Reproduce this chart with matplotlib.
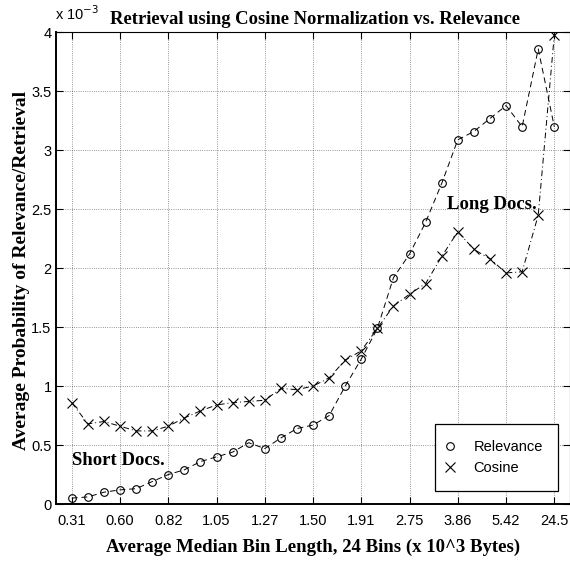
import matplotlib
matplotlib.use('Agg')
import matplotlib.pyplot as plt
from matplotlib.lines import Line2D

# median bin lengths (x 10^3 bytes) shown on every third bin
tick_labels = ['0.31', '0.60', '0.82', '1.05', '1.27', '1.50',
               '1.91', '2.75', '3.86', '5.42', '24.5']

# average probabilities, in units of 10^-3
relevance = [0.05, 0.06, 0.10, 0.12, 0.13, 0.19, 0.25, 0.29, 0.36, 0.40,
             0.44, 0.52, 0.47, 0.56, 0.64, 0.67, 0.75, 1.00, 1.23, 1.49,
             1.92, 2.12, 2.39, 2.72, 3.09, 3.16, 3.27, 3.38, 3.20, 3.86,
             3.20]
cosine = [0.86, 0.68, 0.70, 0.66, 0.62, 0.62, 0.66, 0.73, 0.79, 0.84,
          0.86, 0.87, 0.88, 0.98, 0.97, 1.00, 1.07, 1.22, 1.30, 1.49,
          1.68, 1.78, 1.87, 2.10, 2.31, 2.16, 2.08, 1.96, 1.97, 2.45,
          3.98]

serif = 'Liberation Serif'
sans = 'Liberation Sans'

fig = plt.figure(figsize=(5.7, 5.61), dpi=100)
ax = fig.add_axes([0.0977, 0.1016, 0.903, 0.8405])

x = list(range(len(relevance)))
ax.plot(x, relevance, color='k', ls='--', lw=0.7, dashes=(6, 4),
        marker='o', mfc='none', mec='k', ms=5.5, mew=0.8)
ax.plot(x, cosine, color='k', ls='-.', lw=0.7, dashes=(6, 3, 1, 3),
        marker='x', mec='k', ms=6.5, mew=0.8)

ax.set_xlim(-1, 31)
ax.set_ylim(0, 4)
ax.set_xticks(x[::3])
ax.set_xticklabels(tick_labels)
ax.set_yticks([0, 0.5, 1, 1.5, 2, 2.5, 3, 3.5, 4])
ax.set_yticklabels(['0', '0.5', '1', '1.5', '2', '2.5', '3', '3.5', '4'])
ax.tick_params(direction='in', top=True, right=True, length=5, width=0.8,
               labelsize=10.5)
ax.tick_params(axis='x', pad=7)
ax.tick_params(axis='y', pad=3)
for lab in ax.get_xticklabels() + ax.get_yticklabels():
    lab.set_fontfamily(sans)
ax.grid(True, ls=':', color='k', lw=0.6, alpha=0.55)
for side in ['left', 'bottom']:
    ax.spines[side].set_linewidth(1.4)
for side in ['top', 'right']:
    ax.spines[side].set_linewidth(0.8)

ax.set_xlabel('Average Median Bin Length, 24 Bins (x 10^3 Bytes)',
              family=serif, weight='bold', fontsize=13.5, labelpad=8)
fig.text(0.037, 0.518, 'Average Probability of Relevance/Retrieval',
         family=serif, weight='bold', fontsize=14, rotation=90,
         ha='center', va='center')
fig.text(0.553, 0.966, 'Retrieval using Cosine Normalization vs. Relevance',
         family=serif, weight='bold', fontsize=13.4, ha='center', va='center')
fig.text(0.097, 0.965, r'x 10$^{-3}$', family=sans, fontsize=10.5,
         ha='left', va='baseline')

ax.text(0.0, 0.37, 'Short Docs.', family=serif, weight='bold', fontsize=13.5,
        ha='left', va='center')
ax.text(23.3, 2.54, 'Long Docs.', family=serif, weight='bold', fontsize=13.5,
        ha='left', va='center')

handles = [Line2D([], [], ls='none', marker='o', mfc='none', mec='k', ms=5.5, mew=0.8),
           Line2D([], [], ls='none', marker='x', mec='k', ms=6.5, mew=0.8)]
leg = ax.legend(handles, ['Relevance', 'Cosine'], loc='lower right',
                bbox_to_anchor=(0.976, 0.028), borderaxespad=0,
                prop={'family': sans, 'size': 10.5},
                fancybox=False, framealpha=1, edgecolor='k', borderpad=1.05,
                handletextpad=1.6, handlelength=0.0, labelspacing=0.53)
leg.get_frame().set_linewidth(0.9)

fig.savefig('out.png', dpi=100)
